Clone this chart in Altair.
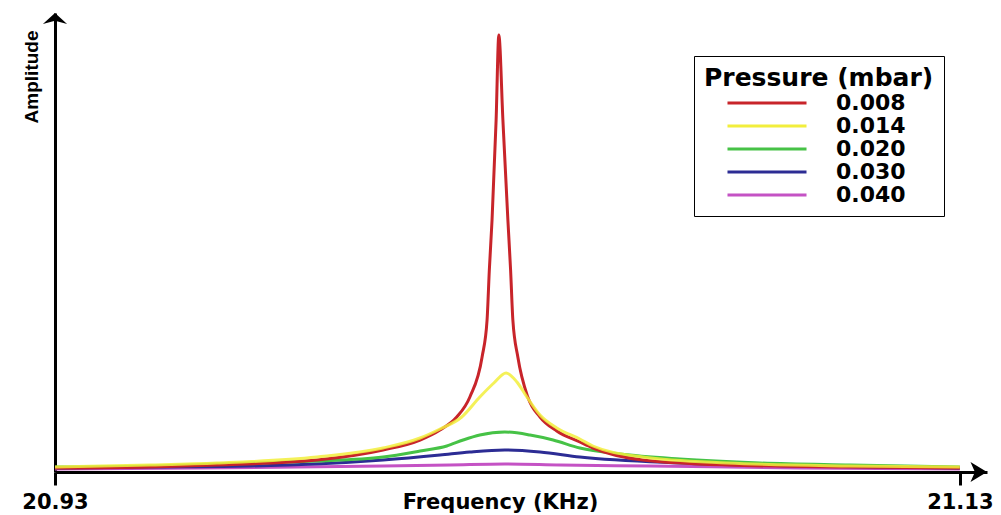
import altair as alt
import pandas as pd

# ---------------- data ----------------
pressures = ["0.008", "0.014", "0.020", "0.030", "0.040"]
colors = ["#c8242a", "#f2ee3c", "#46c246", "#2c2c94", "#c452c4"]

freq_008 = [20.9300, 20.9510, 20.9658, 20.9879, 21.0025, 21.0107, 21.0151, 21.0188,
            21.0217, 21.0244, 21.0255, 21.0260, 21.0266, 21.0275, 21.0281, 21.0290,
            21.0301, 21.0307, 21.0312, 21.0323, 21.0345, 21.0372, 21.0409,
            21.0460, 21.0489, 21.0599, 21.0785, 21.1057, 21.1300]
amp_008 = [4, 5, 7, 12, 22, 32, 42, 55,
           75, 115, 152, 202, 252, 352, 437, 352,
           252, 202, 152, 115, 75, 55, 41,
           30, 24, 12, 7, 5, 4]

freq_014 = [20.9300, 20.9510, 20.9658, 20.9879, 21.0025, 21.0107, 21.0151, 21.0199,
            21.0239, 21.0270, 21.0297, 21.0321, 21.0343, 21.0372, 21.0409, 21.0460,
            21.0489, 21.0599, 21.0785, 21.1057, 21.1300]
amp_014 = [5, 7, 9, 15, 24, 34, 43, 55,
           75, 89, 99, 90, 75, 57, 44, 33,
           26, 15, 9, 6, 5]

freq_020 = [20.9300, 20.9510, 20.9731, 20.9879, 21.0025, 21.0107, 21.0166, 21.0202,
            21.0239, 21.0294, 21.0350, 21.0401, 21.0460, 21.0549, 21.0681, 21.0858,
            21.1057, 21.1300]
amp_020 = [5, 6, 9, 11, 15, 21, 26, 32,
           37, 40, 37, 32, 24, 18, 13, 9,
           7, 5]

freq_030 = [20.9300, 20.9510, 20.9731, 21.0025, 21.0151, 21.0217, 21.0294, 21.0372,
            21.0460, 21.0681, 21.0946, 21.1300]
amp_030 = [4, 5, 6, 12, 17, 20, 22, 20,
           15, 9, 6, 4]

freq_040 = [20.9300, 20.9620, 21.0025, 21.0173, 21.0294, 21.0416, 21.0615, 21.0946,
            21.1300]
amp_040 = [3, 4, 6, 7, 8, 7, 6, 4, 3]

x_tick_values = [20.93, 21.13]
x_min, x_arrow = 20.93, 21.136      # axis start and arrow tip
y_max = 459                          # amplitude (a.u.) at the y-arrow tip

# ---------------- tables ----------------
rows = []
for p, fs, amps in zip(pressures,
                       [freq_008, freq_014, freq_020, freq_030, freq_040],
                       [amp_008, amp_014, amp_020, amp_030, amp_040]):
    for f, a in zip(fs, amps):
        rows.append({"freq": f, "amp": a, "pressure": p})
df = pd.DataFrame(rows)

arrows = pd.DataFrame({"freq": [x_min, x_arrow], "amp": [y_max, 0],
                       "kind": ["up", "right"]})

FONT = "DejaVu Sans"
NARROW = "Liberation Sans Narrow, Liberation Sans, Arial"

xscale = alt.Scale(domain=[x_min, x_arrow], nice=False, zero=False)
yscale = alt.Scale(domain=[0, y_max], nice=False, zero=False)

xaxis = alt.Axis(values=x_tick_values, format=".2f", title="Frequency (KHz)",
                 grid=False, domainColor="black", domainWidth=3,
                 tickColor="black", tickWidth=3, tickSize=13,
                 labelFont=FONT, labelFontSize=21, labelFontWeight="bold",
                 labelColor="black", labelPadding=6, labelFlush=False,
                 labelOverlap=False,
                 titleFont=FONT, titleFontSize=21, titleFontWeight="bold",
                 titleColor="black", titleX=445, titleY=19,
                 titleAlign="center", titleBaseline="top")

yaxis = alt.Axis(title="Amplitude", ticks=False, labels=False, grid=False,
                 domainColor="black", domainWidth=3,
                 titleFont=NARROW, titleFontSize=19, titleFontWeight="bold",
                 titleColor="black", titleAngle=270, titleX=-24, titleY=17,
                 titleAlign="right", titleBaseline="middle")

legend = alt.Legend(title="Pressure (mbar)", orient="none",
                    legendX=639, legendY=43,
                    symbolType="M-4.39,0H4.39", symbolSize=324,
                    symbolStrokeWidth=3, symbolOffset=52, labelOffset=58,
                    labelFont=FONT, labelFontSize=22, labelFontWeight="bold",
                    labelColor="black", labelLimit=300,
                    titleFont=FONT, titleFontSize=25, titleFontWeight="bold",
                    titleColor="black", titlePadding=1, titleLimit=400,
                    rowPadding=1, padding=10, strokeColor="black",
                    fillColor="white")

X = alt.X("freq:Q", scale=xscale, axis=xaxis)
Y = alt.Y("amp:Q", scale=yscale, axis=yaxis)
C = alt.Color("pressure:N", scale=alt.Scale(domain=pressures, range=colors),
              sort=pressures, legend=legend)

base = alt.Chart(df).encode(x=X, y=Y, color=C)

layers = []
for p in ["0.040", "0.030", "0.020", "0.008", "0.014"]:
    op = 0.85 if p == "0.014" else 1.0
    layers.append(
        base.mark_line(strokeWidth=3, interpolate="monotone", opacity=op)
        .transform_filter(alt.datum.pressure == p)
    )

arrow_base = alt.Chart(arrows).encode(x=X, y=Y)
up = arrow_base.mark_point(shape="M0,0L1.1,1.0L0,0.7L-1.1,1.0Z", size=484,
                           filled=True, color="black", opacity=1).transform_filter(
    alt.datum.kind == "up")
right = arrow_base.mark_point(shape="M0,0L-1.5,-0.9L-1.1,0L-1.5,0.9Z", size=484,
                              filled=True, color="black", opacity=1).transform_filter(
    alt.datum.kind == "right")

chart = alt.layer(*layers, up, right).properties(
    width=932, height=459,
    autosize=alt.AutoSizeParams(type="none"),
    padding={"left": 47, "top": 5, "right": 6, "bottom": 42},
    background="white",
).configure_view(strokeWidth=0)

chart.save("out.html", embed_options={"renderer": "svg", "actions": False})
